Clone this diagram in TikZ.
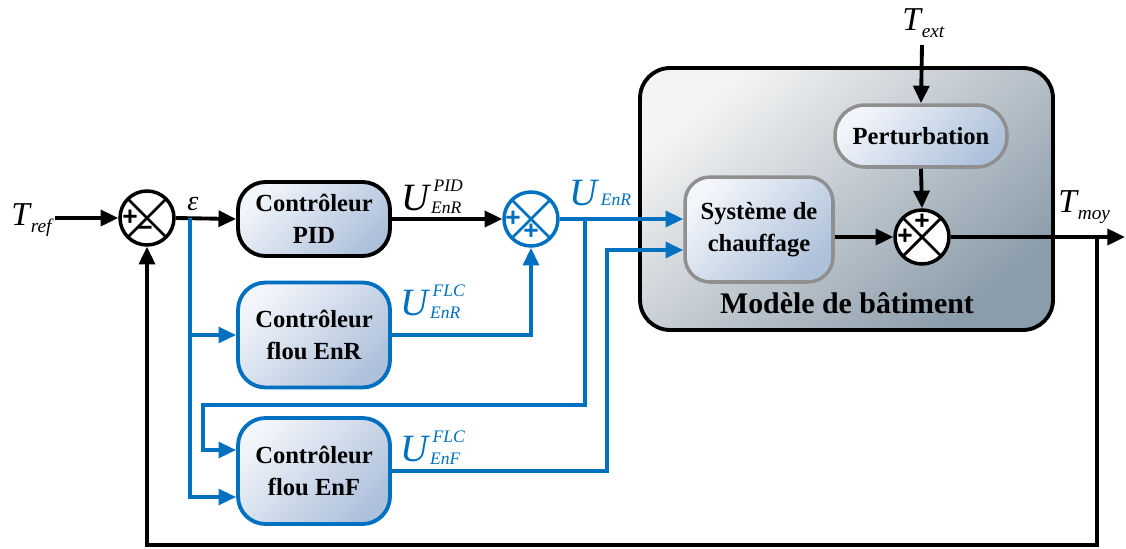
\documentclass[tikz,border=0pt]{standalone}
\usepackage{fontspec}
\setmainfont{Liberation Serif}
\setsansfont{Liberation Sans}
\usepackage{xcolor}
\usetikzlibrary{calc,arrows.meta}

\definecolor{flcblue}{HTML}{0070C0}
\definecolor{boxlight}{HTML}{F2F5FA}
\definecolor{boxdark}{HTML}{AEC1DB}
\definecolor{modlight}{HTML}{F4F4F4}
\definecolor{moddark}{HTML}{8B9CAA}
\definecolor{plantgray}{HTML}{8F8F8F}

\newcommand{\tsym}[2]{{\fontsize{19}{19}\selectfont\itshape #1}\kern0.5pt\raisebox{-4pt}{\fontsize{11}{11}\selectfont\itshape #2}}
\newcommand{\usym}[3]{{\fontsize{22}{22}\selectfont\itshape #1}\kern1pt\rlap{\kern1.5pt\raisebox{10.5pt}{\fontsize{10}{10}\selectfont\itshape #2}}\raisebox{-2pt}{\fontsize{10}{10}\selectfont\itshape #3}}

\tikzset{
  sig/.style={line width=2.2pt,-{Triangle[length=10pt,width=9pt]}},
  bsig/.style={sig,flcblue,line width=1.9pt},
  ctrl/.style={draw=#1,line width=2.2pt,rounded corners=0.55cm,top color=boxlight,bottom color=boxdark,shading angle=45,
    align=center,font=\bfseries\fontsize{14}{18}\selectfont,minimum width=3.04cm},
  plantbox/.style={draw=plantgray,line width=2pt,rounded corners=0.5cm,top color=boxlight,bottom color=boxdark,shading angle=45,
    align=center,font=\bfseries\fontsize{14}{18}\selectfont},
  modelbox/.style={draw=black,line width=2.2pt,rounded corners=0.6cm,top color=modlight,bottom color=moddark,shading angle=40},
  sumnode/.style={circle,draw=#1,fill=white,line width=2pt,minimum size=1.08cm,inner sep=0pt,
    path picture={\draw[#1,line width=1.6pt] (path picture bounding box.north west) -- (path picture bounding box.south east)
      (path picture bounding box.north east) -- (path picture bounding box.south west);}},
  sgn/.style={font=\sffamily\bfseries\fontsize{15}{15}\selectfont,inner sep=0pt},
  lbl/.style={inner sep=0pt,anchor=base west}
}

\begin{document}
\begin{tikzpicture}[x=0.02cm,y=-0.02cm]
\useasboundingbox (0,0) rectangle (1126,548);

\node[modelbox,minimum width=8.26cm,minimum height=5.24cm] (model) at (846.5,199) {};
\node[font=\bfseries\fontsize{17}{17}\selectfont] (mtitle) at (847,303) {Modèle de bâtiment};
\node[plantbox,minimum width=2.96cm,minimum height=2.1cm] (heat) at (759,229.5) {Système de\\chauffage};
\node[plantbox,rounded corners=0.6cm,minimum width=3.44cm,minimum height=1.24cm] (pert) at (921,136) {Perturbation};

\node[ctrl=black,minimum height=1.48cm] (pid) at (314,219) {Contrôleur\\PID};
\node[ctrl=flcblue,minimum height=2.1cm] (flcr) at (314,335) {Contrôleur\\flou EnR};
\node[ctrl=flcblue,minimum height=2.12cm] (flcf) at (314,471) {Contrôleur\\flou EnF};

\node[sumnode=black] (sum1) at (147,218) {};
\node[sgn] at ($(sum1.center)+(-17,0)$) {+};
\node[sgn] at ($(sum1.center)+(-2,13)$) {−};
\node[sumnode=flcblue] (sum2) at (531,219) {};
\node[sgn,flcblue] at ($(sum2.center)+(-18,0)$) {+};
\node[sgn,flcblue] at ($(sum2.center)+(0,13)$) {+};
\node[sumnode=black] (sum3) at (922,237) {};
\node[sgn] at ($(sum3.center)+(-17,0)$) {+};
\node[sgn] at ($(sum3.center)+(0,-15)$) {+};

\node[lbl] (tref) at (11,225) {\tsym{T}{ref}};
\node[lbl,font=\itshape\fontsize{16}{16}\selectfont] (eps) at (187,210) {ε};
\node[lbl] (upid) at (401,210) {\usym{U}{PID}{EnR}};
\node[lbl,flcblue] (uenr) at (569,205) {{\fontsize{22}{22}\selectfont\itshape U}\kern2pt{\fontsize{10}{10}\selectfont\itshape EnR}};
\node[lbl,flcblue] (uflcr) at (400,315) {\usym{U}{FLC}{EnR}};
\node[lbl,flcblue] (uflcf) at (400,461) {\usym{U}{FLC}{EnF}};
\node[lbl] (text) at (902,30) {\tsym{T}{ext}};
\node[lbl] (tmoy) at (1058,212) {\tsym{T}{moy}};

\coordinate (tin) at (55,218);
\draw[sig] (tin) -- (sum1.west);
\draw[sig] (sum1.east) -- (pid.west);
\coordinate (epsb) at (190,218);
\draw[bsig] (epsb) |- (flcr.west);
\draw[bsig] (epsb) |- ($(flcf.west)+(0,26)$);
\draw[sig] (pid.east) -- (sum2.west);
\draw[bsig] (flcr.east) -| (sum2.south);
\draw[bsig] (sum2.east) -- (sum2.east -| heat.west);
\coordinate (ubr) at (585,219);
\coordinate (uturn) at (203,405);
\draw[bsig] (ubr) |- (uturn) |- ($(flcf.west)+(0,-21)$);
\coordinate (fup) at (607,250);
\draw[bsig] (flcf.east) -| (fup) -- (fup -| heat.west);

\coordinate (textb) at (922,45);
\draw[sig] (textb) -- (pert.north);
\draw[sig] (pert.south) -- (sum3.north);
\draw[sig] (sum3.west -| heat.east) -- (sum3.west);
\coordinate (out) at (1125,237);
\draw[sig] (sum3.east) -- (out);
\coordinate (fb) at (1097,237);
\coordinate (fbot) at (1097,545);
\draw[sig] (fb) -- (fbot) -| (sum1.south);
\end{tikzpicture}
\end{document}
